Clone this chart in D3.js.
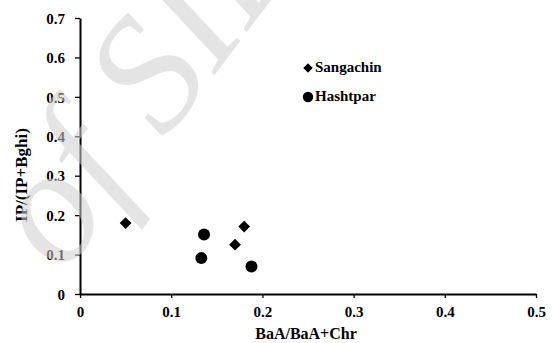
<!DOCTYPE html>
<html><head><meta charset="utf-8">
<script src="https://cdn.jsdelivr.net/npm/d3@7"></script>
<style>
html,body{margin:0;padding:0;background:#fff;}
text{font-family:"Liberation Serif","Times New Roman",serif;font-weight:bold;fill:#000;}
</style></head><body>
<svg id="chart" width="552" height="343"></svg>
<script>
const xTicks = [0, 0.1, 0.2, 0.3, 0.4, 0.5];
const yTicks = [0, 0.1, 0.2, 0.3, 0.4, 0.5, 0.6, 0.7];
const seriesNames = ["Sangachin", "Hashtpar"];
const sangachinX = [0.05, 0.17, 0.18];
const sangachinY = [0.18, 0.125, 0.171];
const hashtparX = [0.136, 0.133, 0.188];
const hashtparY = [0.151, 0.091, 0.07];
const xTitle = "BaA/BaA+Chr";
const yTitle = "IP/(IP+Bghi)";
const watermark = "of SID";

const svg = d3.select("#chart");
const x = d3.scaleLinear().domain([0, 0.5]).range([80, 536]);
const y = d3.scaleLinear().domain([0, 0.7]).range([294, 18]);

const fmt = d => d === 0 ? "0" : d3.format(".1f")(d);

const xa = svg.append("g").attr("transform", "translate(0,294)")
  .call(d3.axisBottom(x).tickValues(xTicks).tickFormat(fmt).tickSizeInner(4).tickSizeOuter(0));
const ya = svg.append("g").attr("transform", "translate(80,0)")
  .call(d3.axisLeft(y).tickValues(yTicks).tickFormat(fmt).tickSizeInner(5).tickSizeOuter(0));
[xa, ya].forEach(g => {
  g.select(".domain").attr("stroke", "#000").attr("stroke-width", 2);
  g.selectAll(".tick line").attr("stroke", "#000").attr("stroke-width", 1.3);
  g.selectAll("text").attr("font-size", 15).style("font-family", '"Liberation Serif",serif').style("font-weight", "bold");
});
xa.selectAll(".tick text").attr("dy", null).attr("y", 23);
ya.selectAll(".tick text").attr("x", -15).attr("dy", "0.35em");

svg.append("text").attr("x", 306).attr("y", 339).attr("text-anchor", "middle")
  .attr("font-size", 16).text(xTitle);
svg.append("text").attr("transform", "translate(27,175) rotate(-90)").attr("text-anchor", "middle")
  .attr("font-size", 17).text(yTitle);

const diamond = d3.symbol().type(d3.symbolDiamond2);
const sData = sangachinX.map((v, i) => ({x: v, y: sangachinY[i]}));
const hData = hashtparX.map((v, i) => ({x: v, y: hashtparY[i]}));

svg.selectAll(".s").data(sData).enter().append("path")
  .attr("d", diamond.size(88)())
  .attr("transform", d => `translate(${x(d.x)},${y(d.y)})`).attr("fill", "#000");
svg.selectAll(".h").data(hData).enter().append("circle")
  .attr("cx", d => x(d.x)).attr("cy", d => y(d.y)).attr("r", 6).attr("fill", "#000");

// legend
const lg = svg.append("g");
lg.append("path").attr("d", diamond.size(58)()).attr("transform", "translate(308,68)").attr("fill", "#000");
lg.append("text").attr("x", 315).attr("y", 72).attr("font-size", 15).text(seriesNames[0]);
lg.append("circle").attr("cx", 308).attr("cy", 97).attr("r", 5.2).attr("fill", "#000");
lg.append("text").attr("x", 315).attr("y", 101).attr("font-size", 15).text(seriesNames[1]);

// watermark overlay
svg.append("text")
  .attr("transform", "translate(63,276) rotate(-53)")
  .attr("font-size", 165)
  .style("font-style", "italic")
  .style("font-weight", "normal")
  .style("fill", "#cfcfcf")
  .style("opacity", 0.55)
  .text(watermark);
</script>
</body></html>
